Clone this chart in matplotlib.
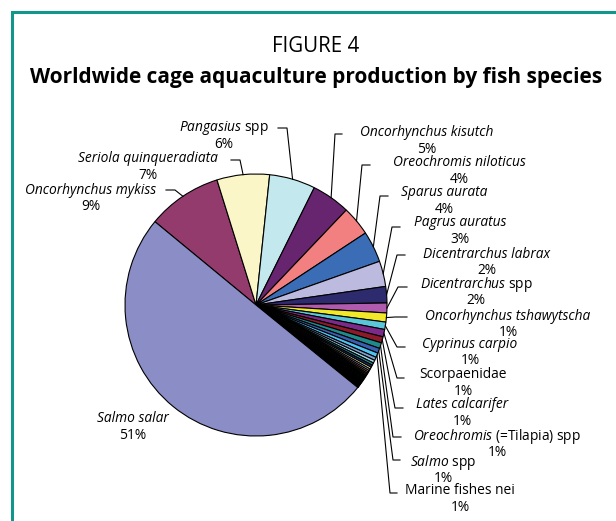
import matplotlib
matplotlib.use("Agg")
import matplotlib.pyplot as plt
import matplotlib.patches as mpatches
import numpy as np

plt.rcParams['font.family'] = ['Open Sans', 'DejaVu Sans']
plt.rcParams['mathtext.fontset'] = 'custom'
plt.rcParams['mathtext.rm'] = 'Open Sans'
plt.rcParams['mathtext.it'] = 'Open Sans:italic'

# Datos: especies con etiqueta (orden horario desde Salmo salar)
species = ['Oncorhynchus mykiss', 'Seriola quinqueradiata', 'Pangasius spp',
           'Oncorhynchus kisutch', 'Oreochromis niloticus', 'Sparus aurata',
           'Pagrus auratus', 'Dicentrarchus labrax', 'Dicentrarchus spp',
           'Oncorhynchus tshawytscha', 'Cyprinus carpio', 'Scorpaenidae',
           'Lates calcarifer', 'Oreochromis (=Tilapia) spp', 'Salmo spp',
           'Marine fishes nei']
shares = [9.1, 6.4, 5.6, 4.7, 3.6, 3.8, 3.1, 2.0, 1.2, 1.1, 0.9, 0.9,
          0.75, 0.7, 0.6, 0.55]
pct_labels = ['9%', '7%', '6%', '5%', '4%', '4%', '3%', '2%', '2%',
              '1%', '1%', '1%', '1%', '1%', '1%', '1%']
colors = ['#943B6E', '#FAF6C8', '#C3E8EE', '#66256E', '#F28080', '#3A6DB5',
          '#BDBAE0', '#2E2A6E', '#B05BAE', '#F2E82A', '#5BC6D8', '#7B2A8A',
          '#8C1A2A', '#1F8A8A', '#3A5FB0', '#4FC3F0']

# Resto de especies pequenas (sin etiqueta)
small_shares = [0.4, 0.35, 0.3, 0.28, 0.25, 0.22, 0.2, 0.18, 0.16, 0.15,
                0.14, 0.12, 0.11, 0.1, 0.1, 0.09, 0.08, 0.08, 0.07, 0.07,
                0.06, 0.06, 0.05, 0.05, 0.05, 0.04, 0.04, 0.04, 0.04, 0.03,
                0.03, 0.03, 0.03, 0.03, 0.02, 0.02, 0.02, 0.02, 0.02, 0.02,
                0.02, 0.01, 0.01, 0.01, 0.01, 0.01, 0.01, 0.01, 0.01]
small_palette = ['#7F9FD0', '#9FD8E8', '#2E8B8B', '#1F2F6F', '#F0E8A0',
                 '#A0C8E8', '#E080A0', '#F0A040', '#40A060', '#C0C0C0']

salmo_salar = 49.5

# Etiquetas: partes en cursiva
label_text = ['Oncorhynchus mykiss', 'Seriola quinqueradiata',
              r'$\mathit{Pangasius}$ spp', 'Oncorhynchus kisutch',
              'Oreochromis niloticus', 'Sparus aurata',
              'Pagrus auratus', 'Dicentrarchus labrax',
              r'$\mathit{Dicentrarchus}$ spp', 'Oncorhynchus tshawytscha',
              'Cyprinus carpio', 'Scorpaenidae',
              'Lates calcarifer', r'$\mathit{Oreochromis}$ (=Tilapia) spp',
              r'$\mathit{Salmo}$ spp', 'Marine fishes nei']
label_style = ['italic', 'italic', 'normal', 'italic', 'italic', 'italic',
               'italic', 'italic', 'normal', 'italic', 'italic', 'normal',
               'italic', 'normal', 'normal', 'normal']

H = 521

def Y(y):
    return H - y

# posiciones del texto (centro del nombre) y de las lineas guia (codo, final) en pixeles
text_pos = [(91, 190), (148, 159), (224, 128), (427, 133), (459, 163),
            (444, 193), (460, 223), (487, 254), (476, 284), (508, 316),
            (470, 344), (463, 375), (462, 405), (497, 436), (443, 462),
            (460, 491)]
elbows = [(175, 190), (240, 160), (287, 128), (335, 134), (362, 165),
          (380, 196), (392, 227), (397, 255), (398, 287), (395, 317),
          (397, 347), (397, 378), (395, 408), (393, 437), (393, 460),
          (390, 493)]
ends = [(166, 190), (231, 160), (278, 128), (342, 134), (370, 165),
        (388, 196), (400, 227), (405, 255), (407, 287), (407, 317),
        (405, 347), (404, 378), (403, 408), (401, 437), (400, 460),
        (397, 493)]

fig = plt.figure(figsize=(6.16, 5.21), dpi=100)
ax = fig.add_axes([0, 0, 1, 1])
ax.axis('off')

values = shares + small_shares + [salmo_salar]
all_colors = colors + [small_palette[i % len(small_palette)] for i in range(len(small_shares))] + ['#8B8EC6']

wedges, _ = ax.pie(values, colors=all_colors, startangle=140.5, counterclock=False,
                   center=(256, Y(305)), radius=131,
                   wedgeprops=dict(edgecolor='black', linewidth=0.8))
ax.set_xlim(0, 616)
ax.set_ylim(0, H)
ax.set_aspect('equal')

for i in range(len(species)):
    w = wedges[i]
    ang = np.deg2rad((w.theta1 + w.theta2) / 2)
    px = w.center[0] + w.r * np.cos(ang)
    py = w.center[1] + w.r * np.sin(ang)
    ex, ey = elbows[i]
    fx, fy = ends[i]
    ax.plot([px, ex, fx], [py, Y(ey), Y(fy)], color='black', lw=0.8)
    tx, ty = text_pos[i]
    ax.text(tx, Y(ty), label_text[i], ha='center', va='center', fontsize=9.9,
            style=label_style[i])
    ax.text(tx, Y(ty + 16.5), pct_labels[i], ha='center', va='center', fontsize=9.9)

ax.text(133, Y(419), 'Salmo salar', ha='center', va='center', fontsize=9.9,
        style='italic')
ax.text(133, Y(435.5), '51%', ha='center', va='center', fontsize=9.9)

ax.text(316, Y(47), 'FIGURE 4', ha='center', va='center', fontsize=14.8)
ax.text(316, Y(77), 'Worldwide cage aquaculture production by fish species',
        ha='center', va='center', fontsize=15, fontweight='bold')

# marco verde
frame = mpatches.Rectangle((11.5, -20), 700, Y(11.5) + 20, fill=False,
                           edgecolor='#12968C', linewidth=2.2)
ax.add_patch(frame)

plt.savefig('out.png', dpi=100)
